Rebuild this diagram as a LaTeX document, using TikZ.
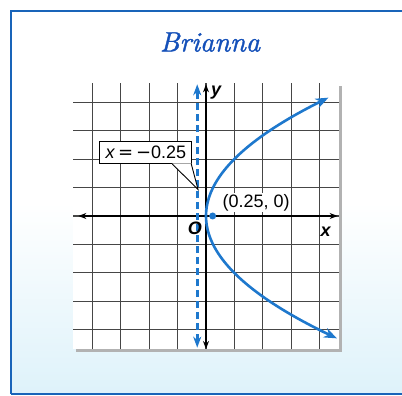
\documentclass[tikz,border=0pt]{standalone}
\usepackage{fontspec}
\setsansfont{Liberation Sans}
\newfontfamily\djv{DejaVu Sans}
\newfontfamily\titlefont{lmroman10-italic}[Extension=.otf, FakeBold=1.3]
\usetikzlibrary{arrows.meta}
\definecolor{frameblue}{RGB}{25,100,185}
\definecolor{curveblue}{RGB}{30,120,205}
\definecolor{titleblue}{RGB}{20,80,185}
\definecolor{bgblue}{RGB}{222,242,250}
\definecolor{gridgray}{RGB}{70,70,70}
\tikzset{
  lbl/.style={font=\sffamily\fontsize{18}{18}\selectfont, inner sep=1pt},
  axlbl/.style={font=\sffamily\bfseries\itshape\fontsize{18}{18}\selectfont, inner sep=0pt},
  bluecurve/.style={curveblue, line width=2.6pt},
  axisline/.style={black, line width=1.4pt, {Stealth[length=8pt,width=6pt]}-{Stealth[length=8pt,width=6pt]}},
}
\begin{document}
\begin{tikzpicture}[x=1pt,y=1pt]
\useasboundingbox (0,0) rectangle (402,396);
\clip (0,0) rectangle (402,396);
% frame
\fill[white] (0,0) rectangle (402,396);
\shade[top color=white, bottom color=bgblue, middle color=white] (11,2) rectangle (440,385);
\draw[frameblue, line width=2.5pt] (11,2) -- (11,385) -- (440,385) (11,2) -- (440,2);
% title
\node[text=titleblue, font=\titlefont\fontsize{28}{28}\selectfont] (title) at (210,354) {Brianna};
% graph
\begin{scope}[shift={(206,180)}, x=26.6pt, y=26.6pt]
  \fill[black!30] (-4.88,-5.12) rectangle (5.12,4.88);
  \fill[white] (-5,-5) rectangle (5,5);
  \draw[gridgray, line width=1.1pt] (-5,-5) grid (5,5);
  % axes
  \coordinate (xl) at (-4.8,0);
  \coordinate (xr) at (4.95,0);
  \coordinate (yb) at (0,-5);
  \coordinate (yt) at (0,4.95);
  \draw[axisline] (xl) -- (xr);
  \draw[axisline] (yb) -- (yt);
  % directrix
  \coordinate (db) at (-0.33,-4.95);
  \coordinate (dt) at (-0.33,4.95);
  \draw[bluecurve, dash pattern=on 7pt off 4pt, {Stealth[length=11pt,width=8pt]}-{Stealth[length=11pt,width=8pt]}] (db) -- (dt);
  % parabola
  \draw[bluecurve, {Stealth[length=13pt,width=10pt]}-{Stealth[length=13pt,width=10pt]}]
    plot[domain=-4.6:4.45, samples=80, smooth] ({\x*\x/4.3},\x);
  % focus
  \node[circle, fill=curveblue, inner sep=0pt, minimum size=7pt] (focus) at (0.25,0) {};
  \node[lbl, fill=white, anchor=west] (flabel) at (0.58,0.5) {(0.25, 0)};
  % callout
  \node[lbl, draw=black, line width=0.9pt, fill=white, minimum width=92pt, minimum height=22pt, inner sep=2pt] (callout) at (-2.26,2.38) {\textit{x}\,{\djv =}\,{\djv −}0.25};
  \coordinate (tip) at (-0.3,1.0);
  \coordinate (pa) at ([xshift=-20pt]callout.south east);
  \coordinate (pb) at ([xshift=-1pt]callout.south east);
  \fill[white] ([yshift=0.7pt]pa) -- (tip) -- ([yshift=0.7pt]pb) -- cycle;
  \draw[black, line width=0.9pt] (pa) -- (tip) -- (pb);
  % axis labels
  \node[axlbl] (ylabel) at (0.38,4.62) {y};
  \node[axlbl] (xlabel) at (4.5,-0.58) {x};
  \node[axlbl] (olabel) at (-0.42,-0.47) {O};
\end{scope}
\end{tikzpicture}
\end{document}
